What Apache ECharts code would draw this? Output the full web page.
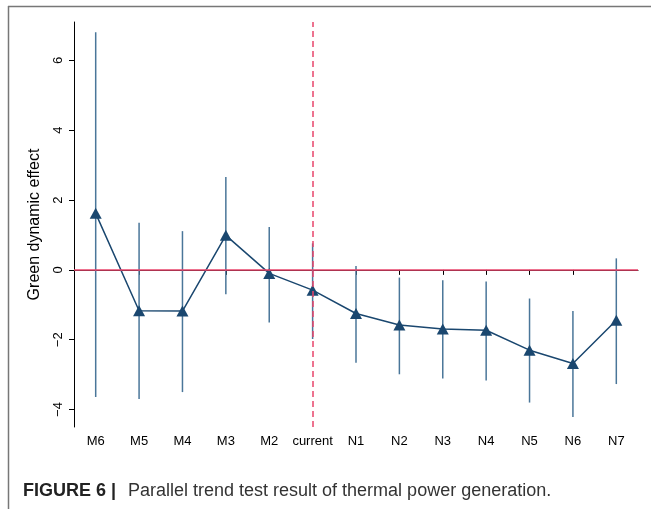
<!DOCTYPE html>
<html>
<head>
<meta charset="utf-8">
<script src="https://cdn.jsdelivr.net/npm/echarts@6/dist/echarts.min.js"></script>
<style>html,body{margin:0;padding:0;background:#fff;}#c{width:651px;height:509px;}</style>
</head>
<body>
<div id="c"></div>
<script>
var categories = ['M6','M5','M4','M3','M2','current','N1','N2','N3','N4','N5','N6','N7'];
var estimates = [1.62,-1.17,-1.18,0.99,-0.10,-0.58,-1.25,-1.58,-1.69,-1.73,-2.30,-2.68,-1.44];
var ciLow = [-3.64,-3.70,-3.50,-0.70,-1.51,-1.98,-2.66,-2.99,-3.11,-3.17,-3.80,-4.21,-3.27];
var ciHigh = [6.81,1.35,1.11,2.66,1.23,0.76,0.11,-0.22,-0.30,-0.33,-0.82,-1.18,0.33];
var yTicks = [-4,-2,0,2,4,6];
var yName = 'Green dynamic effect';
var captionBold = 'FIGURE 6 |';
var captionText = 'Parallel trend test result of thermal power generation.';

var navy = '#1a476f';
var red = '#e8446b';
var ciData = categories.map(function(c,i){ return [i, ciLow[i], ciHigh[i]]; });
var FF = '"Liberation Sans", Arial, sans-serif';

var chart = echarts.init(document.getElementById('c'), null, {renderer:'canvas'});
chart.setOption({
  animation:false,
  backgroundColor:'#fff',
  grid:{left:74, right:13, top:22, bottom:82, containLabel:false},
  xAxis:{
    type:'category', data:categories, boundaryGap:true,
    axisLine:{show:true, lineStyle:{color:'#000', width:1}},
    axisTick:{show:true, alignWithLabel:true, interval:0, length:5, lineStyle:{color:'#000'}},
    axisLabel:{color:'#000', fontSize:13, interval:0, fontFamily:FF, margin:8},
    splitLine:{show:false}
  },
  yAxis:{
    type:'value', min:-4.5, max:7.1,
    name:yName, nameLocation:'middle', nameGap:31,
    nameTextStyle:{color:'#000', fontSize:16, fontFamily:FF},
    axisLine:{show:true, lineStyle:{color:'#000', width:1}},
    axisTick:{show:true, length:5, customValues:yTicks, lineStyle:{color:'#000'}},
    axisLabel:{color:'#000', fontSize:13, rotate:90, margin:9, customValues:yTicks,
      fontFamily:FF,
      formatter:function(v){ return v < 0 ? '\u2212' + Math.abs(v) : String(v); }},
    splitLine:{show:false}
  },
  series:[
    {
      type:'custom', data:ciData, z:2,
      renderItem:function(params, api){
        var a = api.coord([api.value(0), api.value(1)]);
        var b = api.coord([api.value(0), api.value(2)]);
        return {type:'line', shape:{x1:a[0], y1:a[1], x2:b[0], y2:b[1]},
          style:{stroke:'#4a7699', lineWidth:1.5}};
      },
      encode:{x:0, y:[1,2]}
    },
    {
      type:'line', data:estimates, z:3,
      symbol:'triangle', symbolSize:[12,11],
      lineStyle:{color:navy, width:1.5},
      itemStyle:{color:navy},
      markLine:{
        silent:true, symbol:['none','none'], label:{show:false},
        data:[
          {yAxis:0, lineStyle:{color:red, width:1.5, type:'solid'}},
          {xAxis:'current', lineStyle:{color:red, width:1.5, type:[6,4]}}
        ]
      }
    }
  ],
  graphic:[
    {type:'line', shape:{x1:8, y1:6.5, x2:651, y2:6.5}, style:{stroke:'#777', lineWidth:1.5}},
    {type:'line', shape:{x1:8.5, y1:6, x2:8.5, y2:509}, style:{stroke:'#777', lineWidth:1.5}},
    {type:'text', left:23, top:482, style:{text:captionBold, fill:'#222', font:'bold 18px ' + FF}},
    {type:'text', left:128, top:482, style:{text:captionText, fill:'#333', font:'18px ' + FF}}
  ]
});
</script>
</body>
</html>
